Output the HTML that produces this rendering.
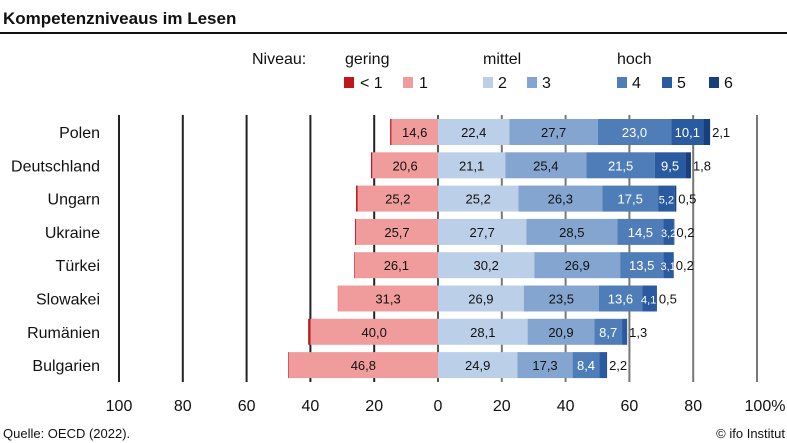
<!DOCTYPE html>
<html><head><meta charset="utf-8"><style>
body{margin:0;background:#fff;}
svg{display:block;font-family:"Liberation Sans",sans-serif;}
</style></head><body>
<svg width="787" height="443" viewBox="0 0 787 443" xmlns="http://www.w3.org/2000/svg">
<text x="3" y="24" font-size="17" font-weight="bold" fill="#111">Kompetenzniveaus im Lesen</text>
<rect x="0" y="32" width="787" height="2" fill="#111"/>
<g font-size="16" fill="#111">
<text x="252" y="64">Niveau:</text>
<text x="345" y="64">gering</text>
<text x="483" y="64">mittel</text>
<text x="617" y="64">hoch</text>
<rect x="344" y="77" width="10" height="11" fill="#c0161e"/><text x="360" y="88">&lt; 1</text>
<rect x="403" y="77" width="10" height="11" fill="#f19c9c"/><text x="419" y="88">1</text>
<rect x="483" y="77" width="10" height="11" fill="#bccfe8"/><text x="498" y="88">2</text>
<rect x="527" y="77" width="10" height="11" fill="#84a5d0"/><text x="542" y="88">3</text>
<rect x="617" y="77" width="10" height="11" fill="#4f7db8"/><text x="632" y="88">4</text>
<rect x="662" y="77" width="10" height="11" fill="#2a5ba0"/><text x="677" y="88">5</text>
<rect x="709" y="77" width="10" height="11" fill="#173f80"/><text x="724" y="88">6</text>
</g>
<g id="grid"></g>
<g id="bars"></g>
<g id="labels" font-size="16" fill="#111" text-anchor="middle"></g>
<text x="3" y="438" font-size="13" fill="#111">Quelle: OECD (2022).</text>
<text x="785" y="438" font-size="13" fill="#111" text-anchor="end">© ifo Institut</text>
<script>
var ns="http://www.w3.org/2000/svg",s=3.19,z=438;
function el(p,t,a,txt){var e=document.createElementNS(ns,t);for(var k in a)e.setAttribute(k,a[k]);if(txt!=null)e.textContent=txt;document.getElementById(p).appendChild(e);}
var ticks=[100,80,60,40,20,0,20,40,60,80,100];
for(var i=0;i<11;i++){var x=119+i*63.8;el('grid','rect',{x:x-1,y:115,width:2,height:267,fill:i<5?'#222':(i==5?'#555':'#777')});
el('labels','text',{x:i==10?x+8:x,y:411},ticks[i]+(i==10?'%':''));}
var d=[["Polen",0.4,14.6,22.4,27.7,23.0,10.1,2.1,1],["Deutschland",0.4,20.6,21.1,25.4,21.5,9.5,1.8,1],["Ungarn",0.5,25.2,25.2,26.3,17.5,5.2,0.5,1],["Ukraine",0.3,25.7,27.7,28.5,14.5,3.2,0.2,1],["Türkei",0.2,26.1,30.2,26.9,13.5,3.1,0.2,1],["Slowakei",0.1,31.3,26.9,23.5,13.6,4.1,0.5,1],["Rumänien",0.7,40.0,28.1,20.9,8.7,1.3,0.3,0],["Bulgarien",0.2,46.8,24.9,17.3,8.4,2.2,0.2,0]];
var col=['#c0161e','#f19c9c','#bccfe8','#84a5d0','#4f7db8','#2a5ba0','#173f80'];
function f(v){return v.toFixed(1).replace('.',',');}
d.forEach(function(r,j){var c=132+j*33.3,y=c-13;
el('labels','text',{x:100,y:c+6,'text-anchor':'end','font-size':'16'},r[0]);
var x1=z-r[2]*s;el('bars','rect',{x:x1,y:y,width:r[2]*s,height:26,fill:col[1]});
el('bars','rect',{x:x1-r[1]*s,y:y,width:r[1]*s,height:26,fill:col[0]});
el('labels','text',{x:x1+r[2]*s/2,y:c+5,'font-size':'13'},f(r[2]));
var x=z;for(var k=3;k<=7;k++){var w=r[k]*s;el('bars','rect',{x:x,y:y,width:w,height:26,fill:col[k-1]});
if(k<=5||(k==6&&r[8]))el('labels','text',{x:x+w/2,y:c+5,'font-size':(k==6&&r[k]<6)?'11':'13',fill:k>=5?'#fff':'#111'},f(r[k]));
x+=w;}
var lab=r[8]?r[7]:r[6];el('labels','text',{x:x+2,y:c+5,'font-size':'13','text-anchor':'start'},f(lab));
});
</script>
</svg>
</body></html>
